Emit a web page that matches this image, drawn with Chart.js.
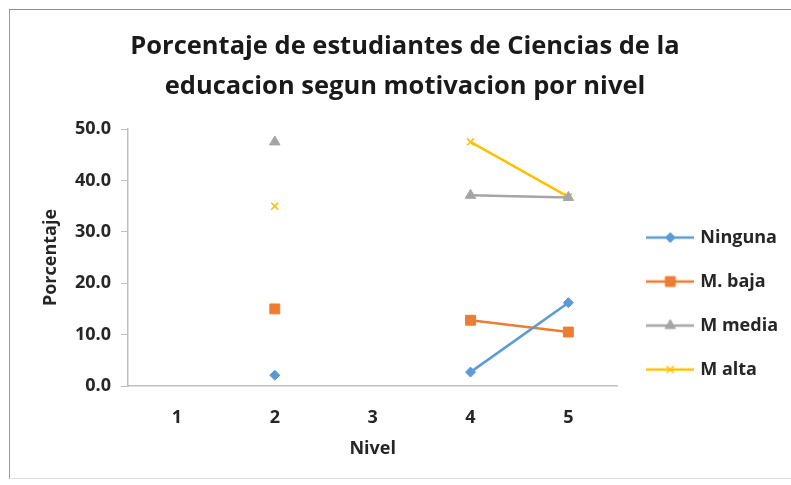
<!DOCTYPE html>
<html>
<head>
<meta charset="utf-8">
<script src="https://cdn.jsdelivr.net/npm/chart.js@4/dist/chart.umd.min.js"></script>
<style>
  body { margin: 0; background: #fff; }
  #marco { position: absolute; left: 9px; top: 9px; width: 800px; height: 468px;
           border-top: 1px solid #8f8f8f; border-left: 1px solid #9a9a9a; border-bottom: 1px solid #e2e2e2; }
  #myChart { position: absolute; left: 0; top: 0; }
</style>
</head>
<body>
<div id="marco"></div>
<canvas id="myChart" width="791" height="485"></canvas>
<script>
// Datos
const niveles = ['1', '2', '3', '4', '5'];
const ninguna = [null, 2.1, null, 2.7, 16.2];
const mBaja = [null, 15.0, null, 12.8, 10.5];
const mMedia = [null, 47.5, null, 37.1, 36.7];
const mAlta = [null, 35.0, null, 47.5, 36.8];
const yTicks = [0, 10, 20, 30, 40, 50];

const fuente = 'Open Sans';
const colorTexto = '#262626';

function serie(label, data, color, estilo, radio) {
    return {
        label: label,
        data: data,
        borderColor: color,
        backgroundColor: color,
        borderWidth: 2.5,
        pointStyle: estilo,
        pointRadius: radio,
        pointHoverRadius: radio,
        pointBorderWidth: estilo === 'crossRot' ? 1.5 : 1,
        spanGaps: false,
        tension: 0
    };
}

// Icono de la leyenda: linea con el marcador encima
function iconoLeyenda(ds) {
    const c = document.createElement('canvas');
    c.width = 48;
    c.height = 14;
    const g = c.getContext('2d');
    g.strokeStyle = ds.borderColor;
    g.fillStyle = ds.backgroundColor;
    g.lineWidth = 2.5;
    g.beginPath();
    g.moveTo(0, 7);
    g.lineTo(48, 7);
    g.stroke();
    g.lineWidth = ds.pointBorderWidth;
    Chart.helpers.drawPoint(g, { pointStyle: ds.pointStyle, radius: ds.pointRadius, rotation: 0, borderWidth: ds.pointBorderWidth }, 24, 7);
    return c;
}

// Mover la leyenda hacia abajo como en el original
const moverLeyenda = {
    id: 'moverLeyenda',
    afterLayout(chart) {
        chart.legend.top += 46;
        chart.legend.bottom += 46;
        chart.legend.left += 6;
        chart.legend.right += 6;
    }
};

const ctx = document.getElementById('myChart').getContext('2d');

const myChart = new Chart(ctx, {
    type: 'line',
    data: {
        labels: niveles,
        datasets: [
            serie('Ninguna', ninguna, '#5B9BD5', 'rectRot', 5),
            serie('M. baja', mBaja, '#ED7D31', 'rect', 7),
            serie('M media', mMedia, '#A5A5A5', 'triangle', 6),
            serie('M alta', mAlta, '#FFC000', 'crossRot', 5)
        ]
    },
    options: {
        responsive: false,
        animation: false,
        devicePixelRatio: 1,
        layout: { padding: { left: 28, right: 9, top: 0, bottom: 24 } },
        plugins: {
            title: {
                display: true,
                text: ['Porcentaje de estudiantes de Ciencias de la', 'educacion segun motivacion por nivel'],
                color: '#1a1a1a',
                font: { family: fuente, size: 25.5, weight: 'bold', lineHeight: 1.55 },
                padding: { top: 27, bottom: 23 }
            },
            legend: {
                position: 'right',
                fullSize: false,
                maxWidth: 173,
                labels: {
                    color: colorTexto,
                    font: { family: fuente, size: 18, weight: 'bold' },
                    usePointStyle: true,
                    pointStyleWidth: 42,
                    padding: 26,
                    generateLabels(chart) {
                        const items = Chart.defaults.plugins.legend.labels.generateLabels(chart);
                        items.forEach((it, i) => {
                            it.pointStyle = iconoLeyenda(chart.data.datasets[i]);
                        });
                        return items;
                    }
                }
            },
            tooltip: { enabled: false }
        },
        scales: {
            x: {
                offset: true,
                grid: { display: false },
                border: { display: true, color: '#BFBFBF', width: 1.5 },
                ticks: {
                    color: colorTexto,
                    font: { family: fuente, size: 18, weight: 'bold' },
                    padding: 13
                },
                title: {
                    display: true,
                    text: 'Nivel',
                    color: colorTexto,
                    font: { family: fuente, size: 18, weight: 'bold' },
                    padding: { top: 4, bottom: 1 }
                },
                afterFit(scale) {
                    scale.height = 75;
                }
            },
            y: {
                min: 0,
                max: 50,
                afterBuildTicks(scale) {
                    scale.ticks = yTicks.map(v => ({ value: v }));
                },
                grid: {
                    display: true,
                    drawOnChartArea: false,
                    drawTicks: true,
                    tickLength: 7,
                    color: '#BFBFBF'
                },
                border: { display: true, color: '#BFBFBF', width: 1.5 },
                ticks: {
                    color: colorTexto,
                    font: { family: fuente, size: 18, weight: 'bold' },
                    padding: 10,
                    callback: v => Number(v).toFixed(1)
                },
                title: {
                    display: true,
                    text: 'Porcentaje',
                    color: colorTexto,
                    font: { family: fuente, size: 18, weight: 'bold' },
                    padding: { top: 12, bottom: 4 }
                },
                afterFit(scale) {
                    scale.width = 100;
                }
            }
        }
    },
    plugins: [moverLeyenda]
});
</script>
</body>
</html>
